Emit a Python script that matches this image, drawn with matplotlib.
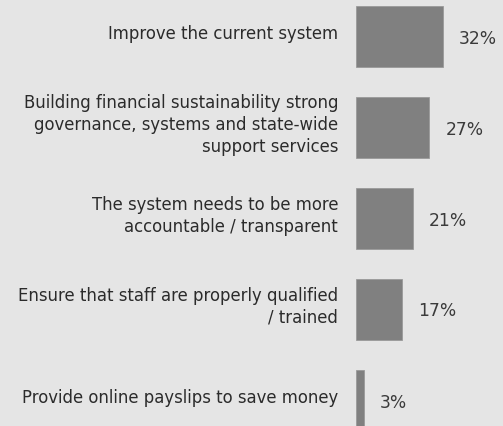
import matplotlib
matplotlib.use("Agg")
import matplotlib.pyplot as plt
from matplotlib.transforms import blended_transform_factory

# survey responses, largest first
labels = [
    "Improve the current system",
    "Building financial sustainability strong\ngovernance, systems and state-wide\nsupport services",
    "The system needs to be more\naccountable / transparent",
    "Ensure that staff are properly qualified\n/ trained",
    "Provide online payslips to save money",
]
values = [32, 27, 21, 17, 3]

bg = "#e5e5e5"
bar_color = "#808080"
text_color = "#2b2b2b"

W, H = 503, 427
fig = plt.figure(figsize=(W / 100, H / 100), dpi=100, facecolor=bg)

# axes start where the bars start; 1% is about 2.72 px
left = 356
ax = fig.add_axes([left / W, 0, (W - left) / W, 1])
ax.set_facecolor(bg)
ax.set_xlim(0, (W - left) / 2.72)
pitch = 91.0
first_center = 37.5
ax.set_ylim((H - first_center) / pitch, -first_center / pitch)

pos = list(range(len(values)))
ax.barh(pos, values, height=61 / pitch, color=bar_color,
        edgecolor="#9a9a9a", linewidth=0.6)

trans = blended_transform_factory(fig.transFigure, ax.transData)
for y, lab, v in zip(pos, labels, values):
    ax.text(338 / W, y - 0.04, lab, transform=trans, ha="right", va="center",
            fontsize=11.9, color=text_color, linespacing=1.28,
            family="DejaVu Sans")
    ax.annotate(f"{v}%", (v, y), xytext=(16, -1), textcoords="offset pixels",
                ha="left", va="center", fontsize=12.3, color="#3a3a3a",
                family="DejaVu Sans")

ax.axis("off")
fig.savefig("out.png", dpi=100, facecolor=bg)
